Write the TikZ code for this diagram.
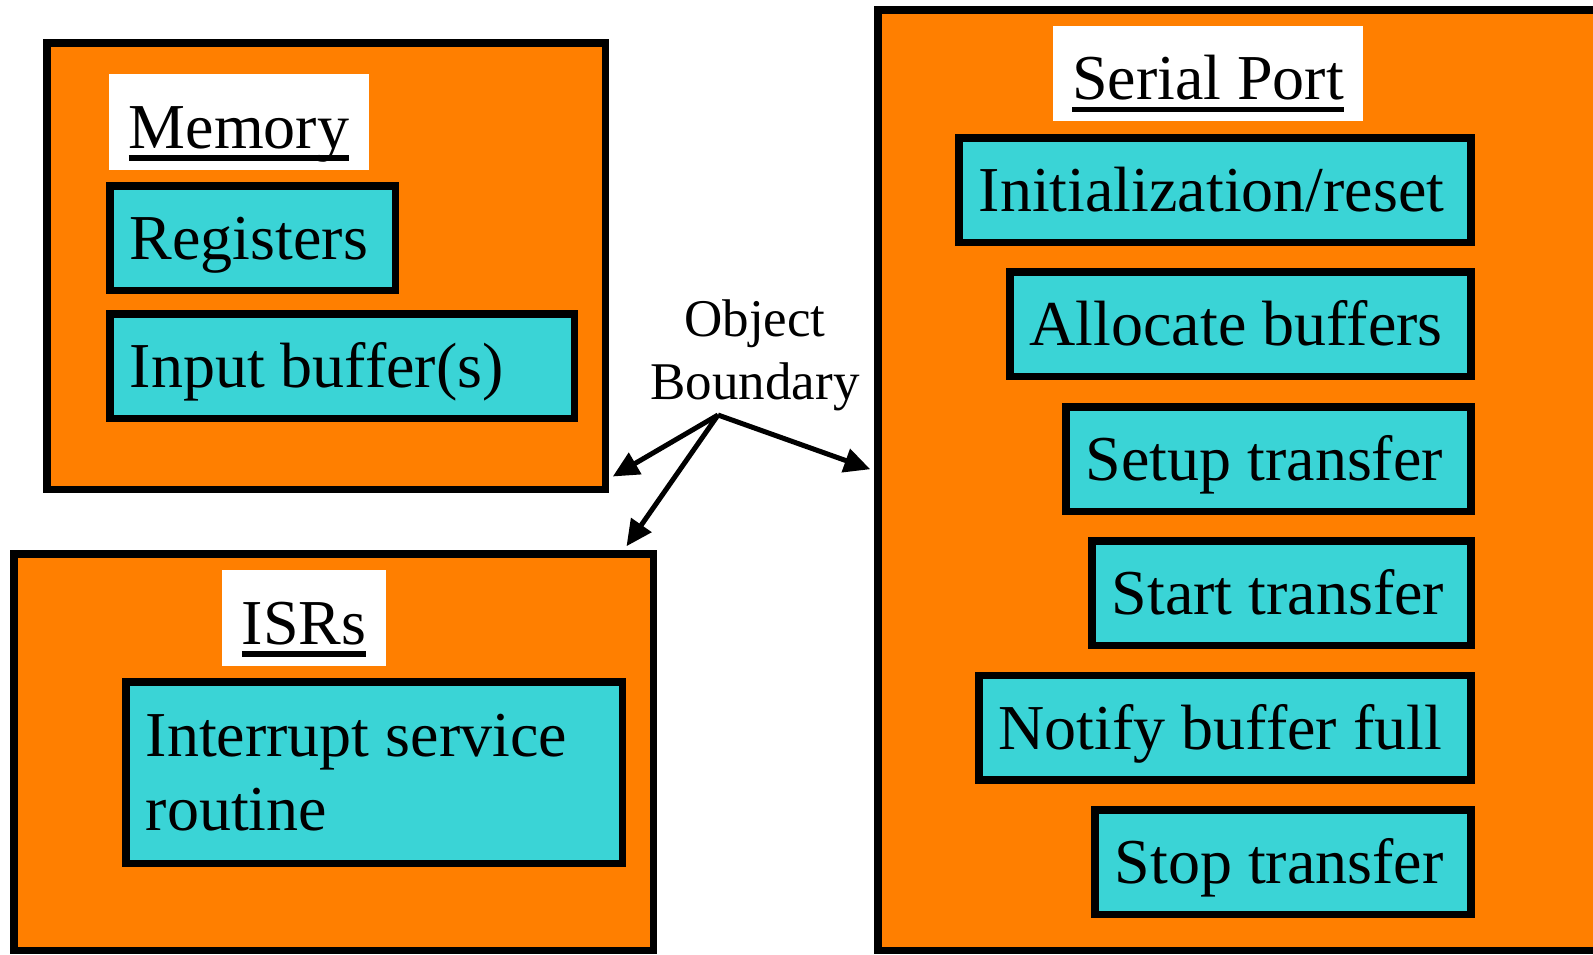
\documentclass[tikz,border=0pt]{standalone}
\usepackage{fontspec}
\setmainfont{Liberation Serif}
\usetikzlibrary{arrows.meta}
\definecolor{panelorange}{RGB}{255,127,0}
\definecolor{itemcyan}{RGB}{58,212,214}
% underlined caption text with a heavy rule
\newcommand\ulabeltext[1]{\setbox0=\hbox{#1}\rlap{\rule[-6.25pt]{\wd0}{2.75pt}}\box0}
% left-aligned text in a line of fixed width
\newcommand\lefttext[2]{\makebox[#1][l]{#2}}
\begin{document}
\begin{tikzpicture}[x=0.5pt, y=-0.5pt,
  panel/.style={draw=black, line width=3.75pt, fill=panelorange, inner sep=0pt},
  itembase/.style={draw=black, line width=3.75pt, fill=itemcyan, inner xsep=10pt,
    inner ysep=0pt, font=\fontsize{32}{37}\selectfont},
  item/.style={itembase, text height=21.5pt, text depth=0pt, minimum height=52.25pt},
  title/.style={fill=white, inner sep=0pt, text height=30pt, text depth=4pt,
    font=\fontsize{32}{37}\selectfont},
  pointer/.style={line width=2.5pt, -{Triangle[length=13pt,width=12pt]}},
]
\useasboundingbox (0,0) rectangle (1593,954);
\clip (0,0) rectangle (1593,954);

% object panels
\node[panel, minimum width=279.25pt, minimum height=223.25pt] (mem) at (326,266) {};
\node[panel, minimum width=319.75pt, minimum height=198.25pt] (isr) at (333.5,752) {};
\node[panel, minimum width=379.25pt, minimum height=470.25pt] (ser) at (1257,480) {};

% panel captions
\node[title, minimum width=130pt, minimum height=48pt] (memt) at (239,122) {\ulabeltext{Memory}};
\node[title, minimum width=82pt, minimum height=48pt] (isrt) at (304,618) {\ulabeltext{ISRs}};
\node[title, minimum width=155pt, minimum height=47.5pt] (sert) at (1208,73.5) {\ulabeltext{Serial Port}};

% memory contents
\node[item] (reg) at (252.5,238) {\lefttext{122.75pt}{Registers}};
\node[item] (inbuf) at (342,366) {\lefttext{212.25pt}{Input buffer(s)}};

% ISR contents
\node[itembase, align=left, minimum height=90.75pt] (intr) at (374,772.5)
  {\lefttext{228.25pt}{Interrupt service}\\routine};

% serial port operations
\node[item] (init)   at (1214.75,190) {\lefttext{236pt}{Initialization/reset}};
\node[item] (alloc)  at (1240.25,324) {\lefttext{210.5pt}{Allocate buffers}};
\node[item] (setup)  at (1268.25,459) {\lefttext{182.5pt}{Setup transfer}};
\node[item] (start)  at (1281.25,593) {\lefttext{169.5pt}{Start transfer}};
\node[item] (notify) at (1224.75,727.5) {\lefttext{226pt}{Notify buffer full}};
\node[item] (stop)   at (1282.75,862) {\lefttext{168pt}{Stop transfer}};

% boundary annotation
\node[font=\fontsize{26.5}{31.5}\selectfont, align=center, inner sep=0pt, anchor=north] (obj) at (755,299) {Object\\Boundary};
\coordinate (apex) at (718,415);
\draw[pointer] (apex) -- ([xshift=1.875pt, yshift=8.25pt]mem.south east);
\draw[pointer] (apex) -- ([xshift=-15.25pt, yshift=1.875pt]isr.north east);
\draw[pointer] (apex) -- ([xshift=-1.875pt, yshift=-231.625pt]ser.north west);
\end{tikzpicture}
\end{document}
